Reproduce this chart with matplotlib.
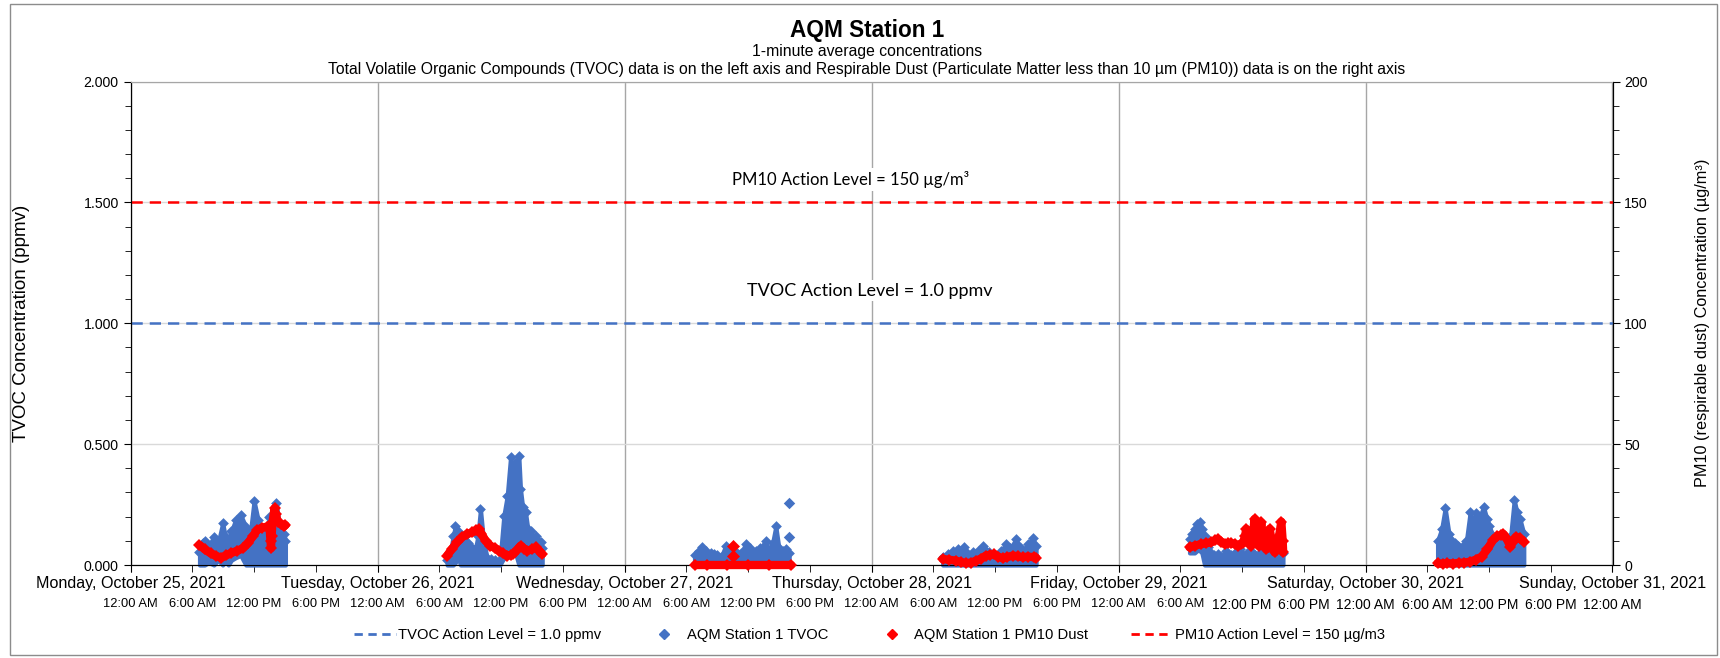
import matplotlib
matplotlib.use('Agg')
import matplotlib.pyplot as plt
from matplotlib.lines import Line2D
from matplotlib.patches import Rectangle
from matplotlib.ticker import MultipleLocator, FormatStrFormatter

plt.rcParams['font.family'] = ['Liberation Sans', 'DejaVu Sans']

BLUE = '#4472C4'
RED = '#FF0000'

# x values are hours counted from Monday, October 25, 2021 12:00 AM
day_labels = ['Monday, October 25, 2021', 'Tuesday, October 26, 2021',
              'Wednesday, October 27, 2021', 'Thursday, October 28, 2021',
              'Friday, October 29, 2021', 'Saturday, October 30, 2021',
              'Sunday, October 31, 2021']
hour_labels = ['12:00 AM', '6:00 AM', '12:00 PM', '6:00 PM']

tvoc_action = 1.0     # ppmv
pm10_action = 150     # ug/m3

# ---- TVOC (ppmv): reading time, upper edge of the cloud, lower edge ----
mon_h = [6.7, 7.0, 7.2, 7.6, 8.1, 8.5, 8.95, 9.2, 9.5, 9.8, 10.2, 10.7, 11.2,
         11.6, 12.0, 12.4, 12.9, 13.2, 13.5, 13.8, 14.15, 14.5, 14.9, 15.05]
mon_hi = [0.055, 0.09, 0.10, 0.08, 0.117, 0.09, 0.173, 0.12, 0.10, 0.14, 0.186,
          0.207, 0.159, 0.12, 0.265, 0.186, 0.10, 0.15, 0.20, 0.17, 0.255, 0.159,
          0.13, 0.10]
mon_lo = [0.0, 0.0, 0.0, 0.01, 0.0, 0.02, 0.0, 0.02, 0.0, 0.02, 0.03, 0.04, 0.0,
          0.0, 0.0, 0.0, 0.0, 0.0, 0.0, 0.0, 0.0, 0.0, 0.0, 0.0]

tue_h = [30.76, 31.1, 31.35, 31.57, 31.8, 32.05, 32.3, 32.54, 32.8, 33.03, 33.3,
         33.51, 33.75, 34.0, 34.3, 34.65, 35.0, 35.46, 35.9, 36.27, 36.6, 36.92,
         37.15, 37.4, 37.73, 37.89, 38.1, 38.38, 38.6, 38.87, 39.1, 39.35, 39.6,
         39.84, 40.0]
tue_hi = [0.02, 0.06, 0.12, 0.163, 0.14, 0.13, 0.10, 0.12, 0.09, 0.08, 0.05,
          0.066, 0.12, 0.231, 0.10, 0.03, 0.025, 0.02, 0.02, 0.204, 0.286, 0.445,
          0.30, 0.424, 0.45, 0.314, 0.24, 0.218, 0.15, 0.142, 0.10, 0.12, 0.10,
          0.094, 0.07]
tue_lo = [0.0, 0.0, 0.0, 0.01, 0.04, 0.0, 0.0, 0.0, 0.0, 0.0, 0.0, 0.0, 0.0, 0.0,
          0.0, 0.0, 0.0, 0.0, 0.0, 0.03, 0.04, 0.08, 0.06, 0.05, 0.0, 0.0, 0.0,
          0.0, 0.0, 0.0, 0.0, 0.0, 0.0, 0.0, 0.0]

wed_h = [54.8, 55.2, 55.56, 55.9, 56.37, 56.7, 57.02, 57.4, 57.83, 58.2, 58.55,
         58.9, 59.3, 59.78, 60.2, 60.76, 61.2, 61.73, 62.0, 62.38, 62.7, 63.0,
         63.35, 63.68, 64.0]
wed_hi = [0.04, 0.06, 0.073, 0.06, 0.05, 0.045, 0.04, 0.035, 0.08, 0.06, 0.03,
          0.05, 0.05, 0.087, 0.07, 0.06, 0.07, 0.10, 0.06, 0.09, 0.16, 0.07,
          0.06, 0.065, 0.05]

thu_h = [78.91, 79.4, 79.88, 80.37, 80.7, 81.02, 81.3, 81.5, 81.83, 82.3, 82.8,
         83.1, 83.45, 83.8, 84.1, 84.6, 85.07, 85.5, 86.04, 86.4, 86.69, 87.2,
         87.66, 87.99]
thu_hi = [0.032, 0.045, 0.059, 0.066, 0.05, 0.073, 0.05, 0.039, 0.052, 0.06,
          0.08, 0.06, 0.052, 0.045, 0.039, 0.06, 0.087, 0.07, 0.107, 0.075,
          0.059, 0.085, 0.11, 0.08]

fri_h = [102.9, 103.15, 103.39, 103.65, 103.87, 104.1, 104.36, 104.68, 105.01,
         105.3, 105.66, 106.0, 106.47, 106.95, 107.3, 107.76, 108.09, 108.5,
         108.9, 109.3, 109.7, 110.03, 110.4, 110.84, 111.2, 111.6, 111.98]
fri_hi = [0.107, 0.13, 0.149, 0.17, 0.18, 0.15, 0.12, 0.073, 0.05, 0.04, 0.045,
          0.035, 0.06, 0.04, 0.05, 0.066, 0.04, 0.05, 0.06, 0.04, 0.05, 0.066,
          0.045, 0.04, 0.05, 0.04, 0.05]
fri_lo = [0.05, 0.05, 0.05, 0.06, 0.06, 0.05, 0.0, 0.0, 0.0, 0.0, 0.0, 0.0, 0.0,
          0.0, 0.0, 0.0, 0.0, 0.0, 0.0, 0.0, 0.0, 0.0, 0.0, 0.0, 0.0, 0.0, 0.0]

sat_h = [127.0, 127.4, 127.74, 128.11, 128.4, 128.67, 129.0, 129.42, 129.8,
         130.17, 130.45, 130.73, 131.1, 131.47, 131.8, 132.03, 132.4, 132.78,
         133.2, 133.7, 134.1, 134.45, 134.7, 135.01, 135.38]
sat_hi = [0.10, 0.15, 0.235, 0.13, 0.10, 0.09, 0.08, 0.076, 0.10, 0.22, 0.17,
          0.214, 0.20, 0.24, 0.19, 0.16, 0.12, 0.10, 0.09, 0.076, 0.12, 0.27,
          0.22, 0.19, 0.13]

# single TVOC readings standing clear of the cloud
tvoc_iso_h = [64.0, 64.0]
tvoc_iso_v = [0.114, 0.256]

# ---- PM10 dust (ug/m3) ----
mon_pm_h = [6.7, 7.2, 7.8, 8.3, 8.8, 9.3, 9.8, 10.3, 10.9, 11.4, 11.9, 12.3,
            12.8, 13.3, 13.5, 13.6, 13.65, 13.7, 13.8, 14.0, 14.1, 14.3, 14.6,
            14.9, 15.05]
mon_pm = [8.3, 6.5, 4.8, 3.8, 3.0, 4.0, 5.0, 5.8, 6.9, 9.0, 12.0, 14.5, 15.5,
          15.9, 16.0, 10.0, 7.0, 12.0, 18.0, 23.5, 21.0, 18.0, 17.0, 16.0, 16.5]

tue_pm_h = [30.76, 31.2, 31.73, 32.2, 32.7, 33.2, 33.6, 33.83, 34.1, 34.5, 34.97,
            35.4, 35.78, 36.2, 36.6, 37.0, 37.2, 37.6, 37.9, 38.2, 38.55, 39.0,
            39.35, 39.7, 40.0]
tue_pm = [3.9, 6.5, 9.4, 11.5, 12.8, 13.5, 14.5, 14.9, 13.0, 10.0, 8.0, 7.0, 5.9,
          4.8, 3.9, 4.2, 4.5, 6.5, 8.0, 6.8, 5.9, 6.5, 7.3, 6.0, 4.5]

wed_pm_h = [54.8, 56.0, 58.0, 60.0, 62.0, 64.2]
wed_pm = [0.0, 0.0, 0.0, 0.0, 0.0, 0.0]

thu_pm_h = [78.91, 79.5, 80.2, 80.7, 81.18, 81.7, 82.15, 82.6, 83.12, 83.5,
            83.93, 84.3, 84.75, 85.2, 85.72, 86.2, 86.69, 87.2, 87.82, 88.0]
thu_pm = [2.5, 2.2, 1.8, 1.2, 0.8, 1.0, 1.8, 2.6, 3.9, 4.2, 4.5, 3.5, 2.8, 3.3,
          3.9, 3.6, 3.2, 3.5, 3.2, 3.0]

fri_pm_h = [102.9, 103.4, 104.04, 104.5, 105.01, 105.4, 105.66, 106.0, 106.31,
            106.65, 106.95, 107.3, 107.6, 107.9, 108.09, 108.3, 108.41, 108.55,
            108.75, 108.9, 109.05, 109.22, 109.4, 109.61, 109.75, 109.87, 110.0,
            110.2, 110.36, 110.5, 110.68, 110.85, 111.0, 111.17, 111.4, 111.6,
            111.82, 111.95, 112.0]
fri_pm = [7.3, 8.0, 8.7, 9.0, 9.4, 10.2, 10.7, 9.5, 8.7, 9.0, 9.1, 8.6, 8.0, 8.8,
          9.0, 12.0, 14.9, 11.0, 10.0, 8.0, 12.0, 19.0, 13.0, 8.0, 12.0, 17.6,
          12.0, 9.0, 6.5, 10.0, 14.9, 11.0, 7.5, 5.2, 8.0, 12.0, 17.9, 10.0, 5.2]

sat_pm_h = [127.0, 127.5, 127.94, 128.5, 129.05, 129.6, 130.17, 130.7, 131.29,
            131.84, 132.4, 132.8, 133.14, 133.4, 133.7, 134.08, 134.3, 134.63,
            135.0, 135.38]
sat_pm = [0.7, 0.5, 0.8, 0.6, 0.9, 1.0, 1.4, 2.2, 3.5, 6.5, 10.4, 11.8, 12.4,
          12.8, 11.0, 7.6, 9.5, 11.7, 11.0, 9.7]

pm_iso_h = [58.55, 58.55]
pm_iso_v = [8.0, 3.9]

tvoc_days = [(mon_h, mon_hi, mon_lo), (tue_h, tue_hi, tue_lo), (wed_h, wed_hi, None),
             (thu_h, thu_hi, None), (fri_h, fri_hi, fri_lo), (sat_h, sat_hi, None)]
pm_days = [(mon_pm_h, mon_pm), (tue_pm_h, tue_pm), (wed_pm_h, wed_pm),
           (thu_pm_h, thu_pm), (fri_pm_h, fri_pm), (sat_pm_h, sat_pm)]

fig = plt.figure(figsize=(17.2, 6.58), dpi=100)
fig.patches.append(Rectangle((10 / 1720, 3 / 658), 1707 / 1720, 651 / 658,
                             transform=fig.transFigure, fill=False,
                             edgecolor='#8C8C8C', linewidth=1))
ax = fig.add_axes([0.0759, 0.1413, 0.8616, 0.7348])
ax2 = ax.twinx()

# TVOC cloud
for hrs, hi, lo in tvoc_days:
    base = lo if lo is not None else 0
    ax.fill_between(hrs, base, hi, color=BLUE, linewidth=3, edgecolor=BLUE,
                    zorder=3, clip_on=False)
    ax.scatter(hrs, hi, marker='D', s=30, color=BLUE, linewidths=0, zorder=3)
ax.scatter(tvoc_iso_h, tvoc_iso_v, marker='D', s=34, color=BLUE, linewidths=0, zorder=3)
ax.axhline(tvoc_action, color=BLUE, linewidth=1.8, linestyle=(0, (4.5, 2.8)), zorder=2)

# PM10 trace on right axis
for hrs, vals in pm_days:
    ax2.plot(hrs, vals, color=RED, linewidth=6, marker='D', markersize=6,
             markeredgewidth=0, solid_joinstyle='round', solid_capstyle='round',
             zorder=4, clip_on=False)
ax2.scatter(pm_iso_h, pm_iso_v, marker='D', s=44, color=RED, linewidths=0, zorder=4)
ax2.axhline(pm10_action, color=RED, linewidth=1.8, linestyle=(0, (4.5, 2.8)), zorder=2)

# level labels (white box hides the grid line behind them)
ax.text(71.8, 1.135, 'TVOC Action Level = 1.0 ppmv', ha='center', va='center',
        fontsize=13, family='Lato', zorder=5,
        bbox=dict(facecolor='white', edgecolor='none', pad=2))
ax.text(70.0, 1.595, 'PM10 Action Level = 150 µg/m³', ha='center', va='center',
        fontsize=12, family='Lato', zorder=5,
        bbox=dict(facecolor='white', edgecolor='none', pad=2))

# x axis: days as major labels, 6-hour steps as a second row
ax.set_xlim(0, 144)
ax.set_xticks(range(0, 145, 24))
ax.set_xticklabels(day_labels, fontsize=11.6)
ax.set_xticks(range(0, 145, 6), minor=True)
ax.set_xticklabels([hour_labels[i % 4] for i in range(25)], minor=True, fontsize=9.3)
ax.xaxis.remove_overlapping_locs = False
ax.tick_params(axis='x', which='major', direction='out', length=5, pad=3)
ax.tick_params(axis='x', which='minor', direction='out', length=5, pad=19)

ax.set_ylim(0, 2)
ax.yaxis.set_major_locator(MultipleLocator(0.5))
ax.yaxis.set_minor_locator(MultipleLocator(0.1))
ax.yaxis.set_major_formatter(FormatStrFormatter('%.3f'))
ax.tick_params(axis='y', which='both', direction='out', labelsize=10.2)
ax.tick_params(axis='y', which='major', length=5)
ax.tick_params(axis='y', which='minor', length=4)

ax2.set_ylim(0, 200)
ax2.yaxis.set_major_locator(MultipleLocator(50))
ax2.yaxis.set_minor_locator(MultipleLocator(10))
ax2.tick_params(axis='y', which='both', direction='out', labelsize=10.2)
ax2.tick_params(axis='y', which='major', length=5)
ax2.tick_params(axis='y', which='minor', length=4)

ax.grid(axis='x', which='major', color='#A6A6A6', linewidth=1)
ax.grid(axis='y', which='major', color='#D9D9D9', linewidth=1)
ax.set_axisbelow(True)
for a in (ax, ax2):
    a.spines['top'].set_color('#A6A6A6')
    a.spines['left'].set_color('black')
    a.spines['right'].set_color('black')
    a.spines['bottom'].set_color('black')

fig.text(22 / 1720, 0.509, 'TVOC Concentration (ppmv)', rotation=90,
         ha='center', va='center', fontsize=13.5)
fig.text(1702 / 1720, 0.509, 'PM10 (respirable dust) Concentration (µg/m³)',
         rotation=90, ha='center', va='center', fontsize=11.7)

fig.text(0.504, 0.954, 'AQM Station 1', ha='center', va='center',
         fontsize=16.3, fontweight='bold')
fig.text(0.504, 0.9215, '1-minute average concentrations', ha='center',
         va='center', fontsize=11.3)
fig.text(0.504, 0.8945, 'Total Volatile Organic Compounds (TVOC) data is on the left '
         'axis and Respirable Dust (Particulate Matter less than 10 µm (PM10)) '
         'data is on the right axis', ha='center', va='center', fontsize=11.3)

handles = [Line2D([], [], color=BLUE, linewidth=2, linestyle=(0, (3, 2))),
           Line2D([], [], color=BLUE, marker='D', markersize=5, linestyle='none'),
           Line2D([], [], color=RED, marker='D', markersize=5, linestyle='none'),
           Line2D([], [], color=RED, linewidth=2, linestyle=(0, (3, 2)))]
labels = ['TVOC Action Level = 1.0 ppmv', 'AQM Station 1 TVOC',
          'AQM Station 1 PM10 Dust', 'PM10 Action Level = 150 µg/m3']
fig.legend(handles, labels, loc='center', bbox_to_anchor=(0.5055, 0.035), ncol=4,
           frameon=False, fontsize=10.6, handlelength=2.8, handletextpad=0.15,
           columnspacing=2.9)

fig.savefig('out.png', dpi=100)
